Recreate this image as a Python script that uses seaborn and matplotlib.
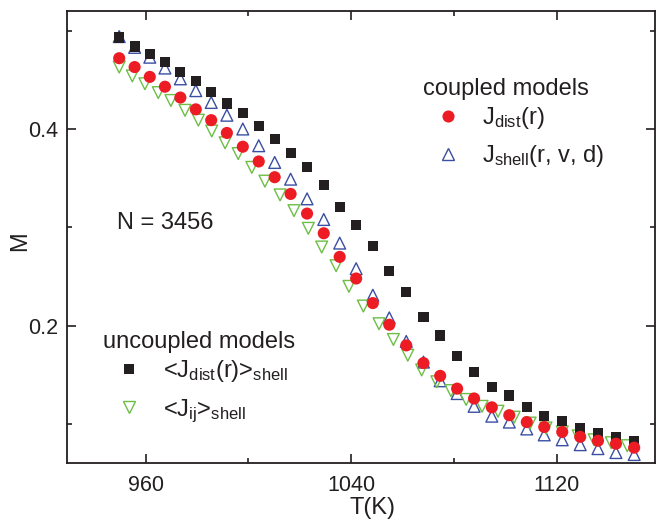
import matplotlib
matplotlib.use("Agg")
import matplotlib.pyplot as plt
import seaborn as sns
import pandas as pd
from matplotlib.lines import Line2D

# ---- data ----
T_main = [949.7, 955.7, 961.6, 967.5, 973.5, 979.5, 985.5, 991.6, 997.8, 1004.0,
          1010.2, 1016.4, 1022.8, 1029.3, 1035.5, 1041.9, 1048.4, 1054.8, 1061.4, 1068.1,
          1074.6, 1081.2, 1087.8, 1094.7, 1101.5, 1108.3, 1115.1, 1122.1, 1129.1, 1136.0,
          1143.0, 1150.1]
M_dist_shell = [0.493, 0.484, 0.476, 0.468, 0.458, 0.449, 0.438, 0.426, 0.416, 0.403,
                0.390, 0.376, 0.361, 0.343, 0.321, 0.302, 0.281, 0.256, 0.234, 0.209,
                0.190, 0.169, 0.153, 0.138, 0.129, 0.117, 0.108, 0.103, 0.096, 0.091,
                0.087, 0.083]
M_dist = [0.472, 0.463, 0.453, 0.443, 0.432, 0.420, 0.409, 0.396, 0.382, 0.367,
          0.351, 0.334, 0.314, 0.294, 0.270, 0.248, 0.223, 0.201, 0.180, 0.162,
          0.149, 0.136, 0.126, 0.117, 0.109, 0.102, 0.097, 0.092, 0.087, 0.083,
          0.080, 0.076]
M_shell = [0.494, 0.483, 0.473, 0.462, 0.451, 0.439, 0.427, 0.414, 0.400, 0.383,
           0.366, 0.349, 0.329, 0.308, 0.284, 0.258, 0.231, 0.208, 0.184, 0.163,
           0.144, 0.131, 0.118, 0.108, 0.102, 0.095, 0.089, 0.084, 0.079, 0.075,
           0.071, 0.069]
T_ij = [949.7, 954.8, 959.7, 964.9, 969.8, 975.3, 980.5, 985.7, 990.9, 996.0,
        1001.3, 1006.4, 1012.3, 1017.7, 1023.3, 1028.5, 1034.1, 1039.1, 1044.7, 1050.8,
        1056.4, 1062.0, 1067.4, 1073.3, 1078.8, 1084.7, 1090.9, 1097.1, 1103.4, 1109.6,
        1115.8, 1122.1, 1128.3, 1134.5, 1141.2, 1147.4]
M_ij = [0.463, 0.454, 0.446, 0.437, 0.429, 0.419, 0.409, 0.398, 0.386, 0.375,
        0.361, 0.347, 0.333, 0.317, 0.299, 0.280, 0.261, 0.240, 0.220, 0.202,
        0.186, 0.170, 0.155, 0.143, 0.134, 0.125, 0.118, 0.113, 0.107, 0.101,
        0.096, 0.092, 0.088, 0.084, 0.081, 0.078]

x_major = [960, 1040, 1120]
x_minor = [1000, 1080]
y_major = [0.2, 0.4]
y_minor = [0.1, 0.3, 0.5]
y_major_labels = ["0.2", "0.4"]

RED = "#ED1C24"
BLACK = "#231F20"
BLUE = "#3A4FA3"
GREEN = "#6CBE45"

sns.set_theme(style="ticks")
plt.rcParams["font.family"] = ["Liberation Sans", "DejaVu Sans"]
plt.rcParams["mathtext.default"] = "regular"

fig = plt.figure(figsize=(6.56, 5.2), dpi=100)
ax = fig.add_axes([67.3 / 656, 1 - 462.7 / 520, (655 - 67.3) / 656, (462.7 - 11) / 520])

df_main = pd.DataFrame({"T": T_main, "dist_shell": M_dist_shell, "dist": M_dist, "shell": M_shell})
df_ij = pd.DataFrame({"T": T_ij, "ij": M_ij})

sns.scatterplot(data=df_main, x="T", y="shell", marker="^", s=72, facecolor="none",
                edgecolor=BLUE, linewidth=1.0, ax=ax, zorder=2)
sns.scatterplot(data=df_ij, x="T", y="ij", marker="v", s=72, facecolor="none",
                edgecolor=GREEN, linewidth=1.0, ax=ax, zorder=2.1)
sns.scatterplot(data=df_main, x="T", y="dist_shell", marker="s", s=54, color=BLACK,
                edgecolor="none", linewidth=0, ax=ax, zorder=2.2)
sns.scatterplot(data=df_main, x="T", y="dist", marker="o", s=76, color=RED,
                edgecolor="none", linewidth=0, ax=ax, zorder=2.3)

ax.set_xlim(929.5, 1158.2)
ax.set_ylim(0.0607, 0.52)
ax.set_xticks(x_major)
ax.set_xticks(x_minor, minor=True)
ax.set_yticks(y_major)
ax.set_yticks(y_minor, minor=True)
ax.set_yticklabels(y_major_labels)
ax.tick_params(which="both", direction="in", top=True, right=True, width=1.2,
               labelsize=15.5, colors=BLACK)
ax.tick_params(which="major", length=6.5)
ax.tick_params(which="minor", length=3.6)
ax.tick_params(axis="x", which="major", pad=9)
ax.tick_params(axis="y", which="major", pad=6.5)
for sp in ax.spines.values():
    sp.set_linewidth(1.3)
    sp.set_color(BLACK)
    sp.set_visible(True)

ax.set_xlabel("T(K)", fontsize=17, color=BLACK)
ax.set_ylabel("M", fontsize=17, color=BLACK)
ax.xaxis.set_label_coords(0.519, -0.077)
ax.yaxis.set_label_coords(-0.062, 0.49)

ax.text(0.0846, 0.530, "N = 3456", transform=ax.transAxes, fontsize=17,
        color=BLACK, va="center", ha="left")

ax.text(0.6052, 0.827, "coupled models", transform=ax.transAxes, fontsize=17,
        color=BLACK, va="center", ha="left")
ax.text(0.0607, 0.268, "uncoupled models", transform=ax.transAxes, fontsize=17,
        color=BLACK, va="center", ha="left")

h1 = [Line2D([], [], ls="", marker="o", markersize=8.7, color=RED, markeredgewidth=0),
      Line2D([], [], ls="", marker="^", markersize=8.6, markerfacecolor="none",
             markeredgecolor=BLUE, markeredgewidth=1.0)]
l1 = ["J$_{dist}$(r)", "J$_{shell}$(r, v, d)"]
leg1 = ax.legend(h1, l1, loc="upper left",
                 bbox_to_anchor=(0.603, 0.791), frameon=False, fontsize=17,
                 handlelength=2.2, handletextpad=0.35, labelspacing=0.5,
                 borderpad=0, borderaxespad=0)
ax.add_artist(leg1)

h2 = [Line2D([], [], ls="", marker="s", markersize=7.4, color=BLACK, markeredgewidth=0),
      Line2D([], [], ls="", marker="v", markersize=8.6, markerfacecolor="none",
             markeredgecolor=GREEN, markeredgewidth=1.0)]
l2 = ["<J$_{dist}$(r)>$_{shell}$", "<J$_{ij}$>$_{shell}$"]
leg2 = ax.legend(h2, l2, loc="upper left",
                 bbox_to_anchor=(0.06, 0.2314), frameon=False, fontsize=17,
                 handlelength=2.2, handletextpad=0.35, labelspacing=0.55,
                 borderpad=0, borderaxespad=0)
for leg in (leg1, leg2):
    for t in leg.get_texts():
        t.set_color(BLACK)

fig.savefig("out.png", dpi=100)
